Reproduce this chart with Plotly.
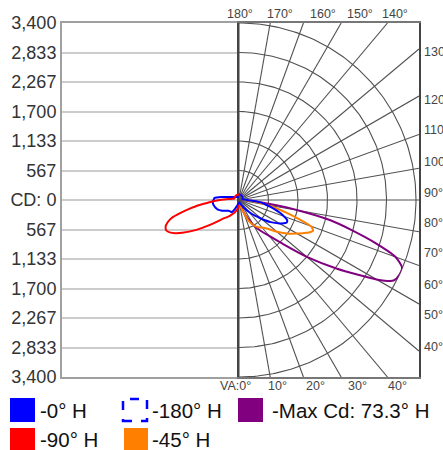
import numpy as np
import plotly.graph_objects as go

# ---------------- data ----------------
vertical_angles = [0, 10, 20, 25, 30, 35, 40, 45, 50, 55, 60, 62.5, 65, 67.5, 70, 72.5,
                   75, 77.5, 80, 82.5, 85, 87.5, 90, 95, 100, 105, 110, 120, 135, 150, 165, 180]

cd_0H = [30, 50, 80, 110, 150, 210, 300, 420, 560, 740, 900, 970, 1015, 1000, 920, 830,
         720, 620, 530, 460, 340, 230, 150, 90, 70, 70, 70, 80, 90, 100, 105, 105]
cd_180H = [50, 80, 130, 200, 265, 275, 280, 290, 320, 360, 400, 420, 440, 455, 465, 475,
           485, 495, 500, 505, 505, 500, 490, 470, 340, 230, 170, 115, 80, 67, 60, 58]
cd_90H = [100, 180, 260, 300, 350, 400, 460, 580, 760, 1000, 1260, 1380, 1470, 1515, 1500, 1440,
          1340, 1150, 960, 800, 600, 480, 365, 200, 130, 100, 95, 95, 100, 105, 105, 105]
cd_45H = [40, 100, 250, 450, 560, 640, 690, 780, 950, 1120, 1290, 1380, 1480, 1540, 1470, 1200,
          950, 730, 540, 380, 250, 170, 120, 80, 70, 70, 70, 80, 90, 100, 105, 105]
cd_max = [50, 80, 230, 380, 560, 720, 900, 1200, 1700, 2300, 3050, 3350, 3400, 3390, 3200, 2750,
          2250, 1800, 1180, 600, 300, 180, 120, 80, 70, 70, 70, 80, 90, 100, 105, 105]

cd_tick_values = [3400, 2833.3, 2266.7, 1700, 1133.3, 566.7, 0,
                  -566.7, -1133.3, -1700, -2266.7, -2833.3, -3400]
cd_tick_labels = ["3,400", "2,833", "2,267", "1,700", "1,133", "567", "CD: 0",
                  "567", "1,133", "1,700", "2,267", "2,833", "3,400"]
ring_values = [566.7, 1133.3, 1700, 2266.7, 2833.3, 3400]
ray_angles = list(range(0, 181, 10))
top_labels = ["180°", "170°", "160°", "150°", "140°"]
right_labels = ["130°", "120°", "110°", "100°", "90°", "80°", "70°", "60°", "50°", "40°"]
bottom_labels = ["VA:0°", "10°", "20°", "30°", "40°"]
legend_labels = ["-0° H", "-180° H", "-Max Cd: 73.3° H", "-90° H", "-45° H"]

CD_MAX = 3400

# ---------------- layout geometry (pixels) ----------------
W, H = 443, 450
CX, CY, RPX = 239, 200, 177
BOX_L, BOX_R, BOX_T, BOX_B = CX - RPX, 419, CY - RPX, CY + RPX


def px(x):
    return x / W


def py(y):
    return 1 - y / H


FONT = "Arial, Liberation Sans, sans-serif"
X2MAX = CD_MAX * (BOX_R - CX) / RPX

fig = go.Figure()

# left panel: empty trace so the cartesian subplot (gridlines + CD labels) is drawn
fig.add_trace(go.Scatter(x=[None], y=[None], xaxis="x", yaxis="y", mode="lines",
                         hoverinfo="skip", showlegend=False))

# right-panel grid: rings
ring_x, ring_y = [], []
th = np.radians(np.linspace(0, 180, 181))
for r in ring_values:
    ring_x += list(r * np.sin(th)) + [None]
    ring_y += list(-r * np.cos(th)) + [None]
fig.add_trace(go.Scatter(x=ring_x, y=ring_y, mode="lines", xaxis="x2", yaxis="y2",
                         line=dict(color="#505050", width=1.1), hoverinfo="skip", showlegend=False))

# right-panel grid: rays to box edge
ray_x, ray_y = [], []
for a in ray_angles:
    ar = np.radians(a)
    dx, dy = np.sin(ar), -np.cos(ar)
    ts = []
    if dx > 1e-9:
        ts.append(X2MAX / dx)
    if abs(dy) > 1e-9:
        ts.append(CD_MAX / abs(dy))
    t = min(ts)
    ray_x += [0, t * dx, None]
    ray_y += [0, t * dy, None]
fig.add_trace(go.Scatter(x=ray_x, y=ray_y, mode="lines", xaxis="x2", yaxis="y2",
                         line=dict(color="#505050", width=1.1), hoverinfo="skip", showlegend=False))

# data curves in polar subplot
def add_curve(vals, color, side):
    theta = [side * a for a in vertical_angles]
    fig.add_trace(go.Scatterpolar(r=vals, theta=theta, mode="lines",
                                  line=dict(color=color, width=2, shape="spline", smoothing=0.6),
                                  showlegend=False, hoverinfo="skip"))

add_curve(cd_max, "#800080", 1)
add_curve(cd_45H, "#ff8000", 1)
add_curve(cd_0H, "#0000ff", 1)
add_curve(cd_180H, "#0000ff", -1)
add_curve(cd_90H, "#ff0000", -1)

annotations = []
top_x = [240, 279.5, 322.5, 359.5, 395]
for t, x in zip(top_labels, top_x):
    annotations.append(dict(x=px(x), y=py(14), text=t, xanchor="center", yanchor="middle"))
right_y = [52, 100, 130, 162, 193, 223, 253, 285, 315, 347]
for t, y in zip(right_labels, right_y):
    annotations.append(dict(x=px(422), y=py(y), text=t, xanchor="left", yanchor="middle"))
bottom_x = [235, 277, 315, 357, 397]
for t, x in zip(bottom_labels, bottom_x):
    annotations.append(dict(x=px(x), y=py(386), text=t, xanchor="center", yanchor="middle"))
for a in annotations:
    a.update(xref="paper", yref="paper", showarrow=False,
             font=dict(family=FONT, size=12.5, color="#444444"))

# legend (swatches as shapes + text)
shapes = []
legend_items = [
    (10, 398, 35, 422, "#0000ff", "solid", 38, 410, legend_labels[0]),
    (123, 399, 147, 421, None, "dash", 150, 410, legend_labels[1]),
    (238, 398, 263, 422, "#800080", "solid", 270, 410, legend_labels[2]),
    (10, 428, 35, 452, "#ff0000", "solid", 38, 439, legend_labels[3]),
    (124, 428, 148, 452, "#ff8000", "solid", 150, 439, legend_labels[4]),
]
for x0, y0, x1, y1, fillc, style, tx, ty, label in legend_items:
    if style == "solid":
        shapes.append(dict(type="rect", xref="paper", yref="paper", x0=px(x0), x1=px(x1),
                           y0=py(y1), y1=py(y0), fillcolor=fillc, line=dict(width=0)))
    else:
        shapes.append(dict(type="rect", xref="paper", yref="paper", x0=px(x0), x1=px(x1),
                           y0=py(y1), y1=py(y0), fillcolor="rgba(0,0,0,0)",
                           line=dict(color="#0000ff", width=2.5, dash="dash")))
    annotations.append(dict(xref="paper", yref="paper", x=px(tx), y=py(ty), text=label,
                            xanchor="left", yanchor="middle", showarrow=False,
                            font=dict(family=FONT, size=20.5, color="#111111")))

fig.update_layout(
    width=W, height=H, autosize=False,
    margin=dict(l=0, r=0, t=0, b=0, autoexpand=False),
    paper_bgcolor="white", plot_bgcolor="rgba(0,0,0,0)",
    showlegend=False,
    xaxis=dict(domain=[px(BOX_L), px(CX)], range=[-CD_MAX, 0], showgrid=False, zeroline=False,
               showticklabels=False, ticks="", showline=True, mirror=True, automargin=False,
               linecolor="#a0a0a0", linewidth=2, fixedrange=True),
    yaxis=dict(domain=[py(BOX_B), py(BOX_T)], range=[-CD_MAX, CD_MAX], automargin=False,
               tickmode="array", tickvals=cd_tick_values, ticktext=cd_tick_labels,
               showgrid=True, gridcolor="#cccccc", gridwidth=2, zeroline=False,
               ticks="", ticklen=0,
               tickfont=dict(family=FONT, size=18, color="#333333"),
               showline=True, mirror=False, linecolor="#a0a0a0", linewidth=2, fixedrange=True),
    xaxis2=dict(domain=[px(CX), px(BOX_R)], range=[0, X2MAX], anchor="y2", showgrid=False,
                zeroline=False, showticklabels=False, ticks="", showline=True, mirror=True,
                automargin=False, linecolor="#777777", linewidth=1.5, fixedrange=True),
    yaxis2=dict(domain=[py(BOX_B), py(BOX_T)], range=[-CD_MAX, CD_MAX], anchor="x2",
                showgrid=False, zeroline=False, showticklabels=False, ticks="", automargin=False,
                showline=True, mirror=True, linecolor="#444444", linewidth=1.5, fixedrange=True),
    polar=dict(domain=dict(x=[px(BOX_L), px(CX + RPX)], y=[py(BOX_B), py(BOX_T)]),
               bgcolor="rgba(0,0,0,0)",
               radialaxis=dict(range=[0, CD_MAX], visible=False, showgrid=False),
               angularaxis=dict(visible=False, showgrid=False, rotation=-90,
                                direction="counterclockwise")),
    annotations=annotations,
    shapes=shapes,
)

fig.write_html("out.html", config={"displayModeBar": False},
               post_script="document.body.style.margin='0px';")
